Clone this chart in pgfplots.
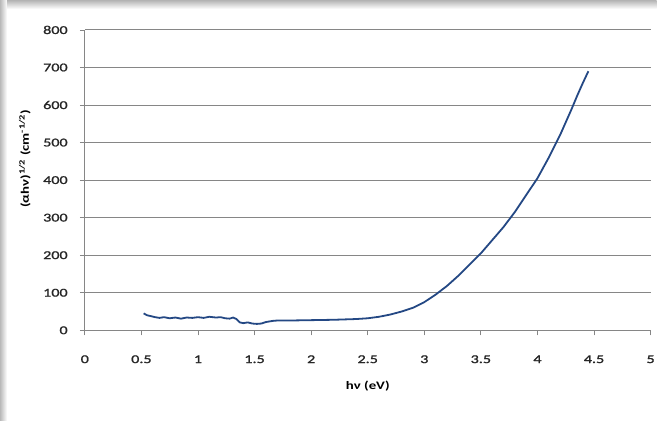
\documentclass[border=0pt]{standalone}
\usepackage{pgfplots}
\pgfplotsset{compat=1.18}
\usepackage{fontspec}
\setmainfont{Carlito}[FakeStretch=1.3]
\newfontfamily\tickfont{Carlito}[FakeStretch=1.35, FakeBold=1.3]
\definecolor{curve}{RGB}{36,72,132}
\definecolor{gridc}{RGB}{134,134,134}
\begin{document}
\begin{tikzpicture}[x=1bp,y=1bp]
\path[fill=white] (0,0) rectangle (658,421);
\shade[top color=gray!60, bottom color=white] (0,412) rectangle (658,421);
\shade[left color=gray!55, right color=white] (0,0) rectangle (7,421);
\begin{axis}[
  at={(85bp,90bp)}, anchor=south west,
  scale only axis, width=567bp, height=301bp,
  xmin=0, xmax=5, ymin=0, ymax=800,
  xtick={0,0.5,...,5}, ytick={0,100,...,800},
  axis x line*=bottom, axis y line*=left,
  axis line style={gridc, line width=1bp},
  ymajorgrids, grid style={gridc, line width=1bp},
  tick align=outside, major tick length=5bp,
  tick style={gridc, line width=0.8bp},
  font=\fontsize{11.5}{13}\selectfont,
  tick label style={font=\tickfont\fontsize{12}{14}\selectfont, text=black!85},
  /pgf/number format/assume math mode=true,
  xticklabel style={anchor=center, yshift=-24bp},
  yticklabel style={anchor=east, inner sep=0pt, xshift=-12bp},
  xlabel={\bfseries hν (eV)},
  ylabel={\bfseries (αhν)\textsuperscript{1/2} (cm\textsuperscript{-1/2})},
  xlabel style={at={(axis description cs:0.5,-0.186)}, anchor=center},
  ylabel style={at={(axis description cs:-0.106,0.571)}, anchor=center},
]
\addplot[curve, line width=1.8bp, line join=round] coordinates {
(0.52,45) (0.55,40) (0.58,38) (0.62,35) (0.66,33) (0.70,35) (0.75,32)
(0.80,34) (0.85,31) (0.90,34) (0.95,33) (1.00,35) (1.05,33) (1.10,36)
(1.16,34) (1.20,35) (1.24,32) (1.28,31) (1.31,34) (1.34,30) (1.37,21)
(1.40,19) (1.44,21) (1.48,18) (1.52,17) (1.56,18) (1.60,22) (1.66,25)
(1.70,26) (1.80,26) (2.00,27) (2.20,28) (2.40,30) (2.50,32) (2.60,36)
(2.70,42) (2.80,50) (2.90,60) (3.00,75) (3.10,95) (3.20,118) (3.30,145)
(3.40,175) (3.50,205) (3.60,240) (3.70,275) (3.80,315) (3.90,360)
(4.00,405) (4.10,460) (4.20,520) (4.30,588) (4.35,624) (4.40,658)
(4.45,690)
};
\end{axis}
\end{tikzpicture}
\end{document}
